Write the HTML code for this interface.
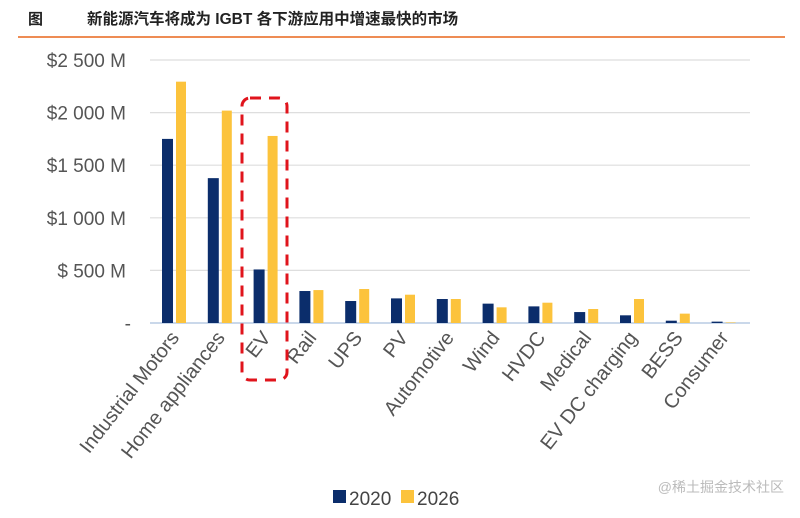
<!DOCTYPE html>
<html><head><meta charset="utf-8"><style>
body{margin:0;width:800px;height:513px;background:#fff;overflow:hidden;font-family:"Liberation Sans","Noto Sans CJK SC",sans-serif}
</style></head><body>
<svg width="800" height="513" xmlns="http://www.w3.org/2000/svg">
<text x="28" y="24" font-size="15" font-weight="bold" fill="#222" font-family="Liberation Sans,Noto Sans CJK SC,sans-serif">图</text>
<text x="87" y="24" font-size="15.5" font-weight="bold" fill="#222" font-family="Liberation Sans,Noto Sans CJK SC,sans-serif">新能源汽车将成为 IGBT 各下游应用中增速最快的市场</text>
<line x1="18" y1="37" x2="785" y2="37" stroke="#e8661c" stroke-width="1.5"/>
<g id="grid"></g><g id="bars"></g><g id="xlabels"></g>
<rect x="242" y="98" width="45" height="282" rx="8" fill="none" stroke="#e0141c" stroke-width="3" stroke-dasharray="11,8"/>
<rect x="333" y="490" width="13" height="13" fill="#0b2d6b"/>
<text x="349" y="505" font-size="19" fill="#444">2020</text>
<rect x="401" y="490" width="13" height="13" fill="#fcc33c"/>
<text x="417" y="505" font-size="19" fill="#444">2026</text>
<text x="784" y="492" font-size="14" fill="#bbb" text-anchor="end">@稀土掘金技术社区</text>
</svg>
<script>
const categories=["Industrial Motors","Home appliances","EV","Rail","UPS","PV","Automotive","Wind","HVDC","Medical","EV DC charging","BESS","Consumer"];
const v2020=[1750,1377,509,304,209,234,228,184,158,104,73,22,13];
const v2026=[2294,2019,1778,313,323,269,228,149,193,133,228,89,5];
const yTicks=[0,500,1000,1500,2000,2500];
const yTickLabels=["-","$ 500 M","$1 000 M","$1 500 M","$2 000 M","$2 500 M"];
const NS="http://www.w3.org/2000/svg";
const y0=323,yTop=60,step=45.8;
function yS(v){return y0-(v/2500)*(y0-yTop);}
function xS(i){return 162+i*step;}
function mk(t,a,p){const e=document.createElementNS(NS,t);for(const k in a)e.setAttribute(k,a[k]);p.appendChild(e);return e;}
const grid=document.getElementById('grid'),bars=document.getElementById('bars'),xl=document.getElementById('xlabels');
yTicks.forEach((t,i)=>{
  const l=mk('line',{x1:150,x2:750,y1:yS(t),y2:yS(t),stroke:t===0?'#b8cce4':'#dedede','stroke-width':t===0?1.5:1.2},grid);
  
  
  const tx=mk('text',{x:t===0?131:126,y:yS(t)+7,'font-size':19,fill:'#555','text-anchor':'end'},grid);
  tx.textContent=yTickLabels[i];
  
  
});
categories.forEach((c,i)=>{
  const x=xS(i);
  const b1=mk('rect',{x:x,y:yS(v2020[i]),width:11,height:y0-yS(v2020[i]),fill:'#0b2d6b'},bars);
  
  
  const b2=mk('rect',{x:x+14,y:yS(v2026[i]),width:10,height:y0-yS(v2026[i]),fill:'#fcc33c'},bars);
  
  
  const lx=x+18,ly=338;
  const t=mk('text',{x:lx,y:ly,'font-size':20,fill:'#555','text-anchor':'end',transform:`rotate(-52 ${lx} ${ly})`},xl);
  t.textContent=c;
  
  
});
</script>
</body></html>
